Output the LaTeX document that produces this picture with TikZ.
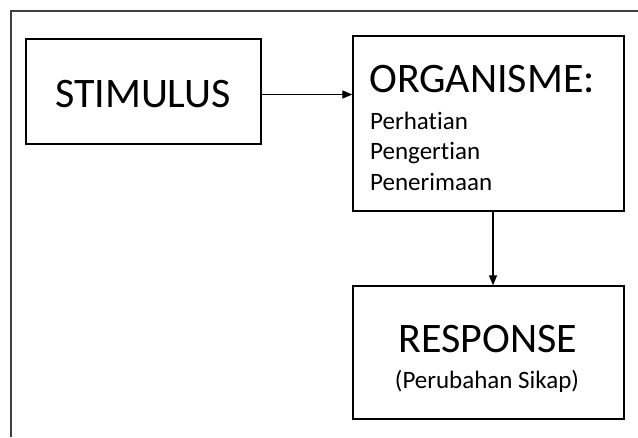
\documentclass[tikz,border=0pt]{standalone}
\usepackage{fontspec}
\setmainfont{Carlito}[Ligatures=NoCommon]
\usetikzlibrary{arrows.meta}

\begin{document}
\begin{tikzpicture}[x=1pt,y=-1pt,
  box/.style={draw, line width=1.3pt, inner sep=0pt},
  big/.style={font=\fontsize{42}{50}\selectfont, inner sep=0pt},
  small/.style={font=\fontsize{25}{30}\selectfont, inner sep=0pt, anchor=base west},
  link/.style={-{Triangle[length=10pt,width=8pt]}, line width=1.2pt}]

\useasboundingbox (0,0) rectangle (638,437);

% frame
\draw[line width=2pt, black!75] (10.5,437)--(10.5,11)--(638,11);

\node[box, minimum width=235pt, minimum height=105pt] (stim) at (143.5,91.5) {};
\node[big, anchor=base] (stimtxt) at (143,107) {STIMULUS};

\node[box, minimum width=271pt, minimum height=175pt] (org) at (488.5,123.5) {};
\node[big, anchor=base west] (orgtxt) at (369,92) {ORGANISME:};
\node[small] (perh) at (370,129) {Perhatian};
\node[small] (peng) at (370,159) {Pengertian};
\node[small] (pene) at (370,190) {Penerimaan};

\node[box, minimum width=271pt, minimum height=133pt] (resp) at (488.5,352.5) {};
\node[big, anchor=base] (resptxt) at (488,352) {RESPONSE};
\node[small, anchor=base] (sikap) at (487,388) {(Perubahan Sikap)};

\draw[link] ([yshift=-3pt]stim.east) -- ([yshift=-3pt]stim.east -| org.west);
\draw[link] ([xshift=4.5pt]org.south) -- ([xshift=4.5pt]resp.north);

\end{tikzpicture}
\end{document}
